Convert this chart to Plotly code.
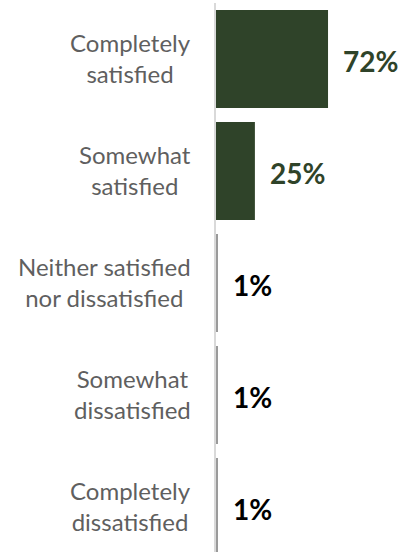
import plotly.graph_objects as go

categories = ["Completely<br>satisfied", "Somewhat<br>satisfied",
              "Neither satisfied<br>nor dissatisfied", "Somewhat<br>dissatisfied",
              "Completely<br>dissatisfied"]
values = [72, 25, 1, 1, 1]
value_labels = ["72%", "25%", "1%", "1%", "1%"]

GREEN = "#2f4329"
bar_colors = [GREEN, GREEN, "#9a9a9a", "#9a9a9a", "#9a9a9a"]
text_colors = [GREEN, GREEN, "#000000", "#000000", "#000000"]

ypos = list(range(len(categories)))

fig = go.Figure()
fig.add_trace(go.Bar(
    x=values, y=ypos, orientation="h",
    marker=dict(color=bar_colors, line=dict(width=0)),
    hoverinfo="skip",
))

for yv, v, t, c in zip(ypos, values, value_labels, text_colors):
    fig.add_annotation(x=v, y=yv, xref="x", yref="y", text=f"<b>{t}</b>",
                       showarrow=False, xanchor="left", xshift=13, yshift=-2,
                       font=dict(family="Lato", size=28, color=c))

for yv, cat in zip(ypos, categories):
    fig.add_annotation(x=0, y=yv, xref="paper", yref="y", text=cat,
                       showarrow=False, xanchor="right", xshift=-23, yshift=1,
                       align="center",
                       font=dict(family="Lato", size=24, color="#5f5f5f"))

fig.update_layout(
    width=417, height=552,
    margin=dict(l=216, r=0, t=3, b=0),
    plot_bgcolor="white", paper_bgcolor="white",
    bargap=0.125, showlegend=False,
    xaxis=dict(range=[0, 201 / 1.556], visible=False, fixedrange=True),
    yaxis=dict(range=[4.402, -0.5], showticklabels=False, ticks="",
               showgrid=False, zeroline=False, fixedrange=True,
               showline=True, linecolor="#d9d9d9", linewidth=2),
)

fig.write_html("out.html", config={"displayModeBar": False},
               post_script="document.body.style.margin='0';")
